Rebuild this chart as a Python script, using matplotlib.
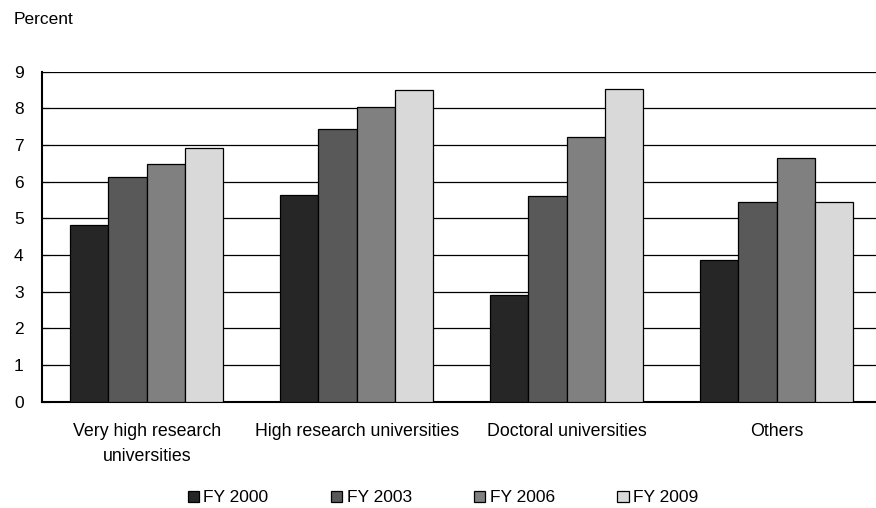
import matplotlib
matplotlib.use("Agg")
import matplotlib.pyplot as plt
import numpy as np

plt.rcParams['font.family'] = ['Liberation Sans Narrow', 'Liberation Sans', 'DejaVu Sans']

categories = ["Very high research\nuniversities", "High research universities",
              "Doctoral universities", "Others"]
series_names = ["FY 2000", "FY 2003", "FY 2006", "FY 2009"]
fy2000 = [4.82, 5.64, 2.90, 3.86]
fy2003 = [6.12, 7.43, 5.61, 5.46]
fy2006 = [6.49, 8.05, 7.22, 6.66]
fy2009 = [6.91, 8.49, 8.52, 5.46]
series_values = [fy2000, fy2003, fy2006, fy2009]
colors = ["#262626", "#595959", "#808080", "#d9d9d9"]
y_ticks = list(range(0, 10))

W, H = 876, 508
fig = plt.figure(figsize=(W / 100, H / 100), dpi=100)
left_px, right_px, top_px, bottom_px = 41.7, 876, 71.7, 401.7
ax = fig.add_axes([left_px / W, 1 - bottom_px / H,
                   (right_px - left_px) / W, (bottom_px - top_px) / H])

x = np.arange(len(categories))
bw = 0.1824
for i, (name, vals, col) in enumerate(zip(series_names, series_values, colors)):
    ax.bar(x + (i - 1.5) * bw, vals, width=bw, color=col, edgecolor="black",
           linewidth=0.9, label=name, zorder=3)

cat_px = 210.0
ax.set_xlim(-0.5, -0.5 + (right_px - left_px) / cat_px)
ax.set_ylim(0, 9)
ax.set_yticks(y_ticks)
ax.yaxis.grid(True, color="black", linewidth=0.9, zorder=0)
ax.set_axisbelow(True)

ax.set_xticks(x)
ax.set_xticklabels(categories, fontsize=12.8, linespacing=1.65)
ax.tick_params(axis="x", length=0, pad=15)
ax.tick_params(axis="y", direction="in", length=5, width=0.8, labelsize=12.5, pad=13)

for s in ["top", "right"]:
    ax.spines[s].set_visible(False)
ax.spines["left"].set_linewidth(1.5)
ax.spines["bottom"].set_linewidth(1.5)

fig.text(14 / W, 1 - 20 / H, "Percent", fontsize=12.5, va="center", ha="left")

leg = fig.legend(*ax.get_legend_handles_labels(), loc="center",
                 bbox_to_anchor=(443 / W, 1 - 498 / H), ncol=4, frameon=False,
                 fontsize=12.5, handlelength=0.65, handleheight=0.65,
                 handletextpad=0.25, columnspacing=3.6)

fig.savefig("out.png", dpi=100)
